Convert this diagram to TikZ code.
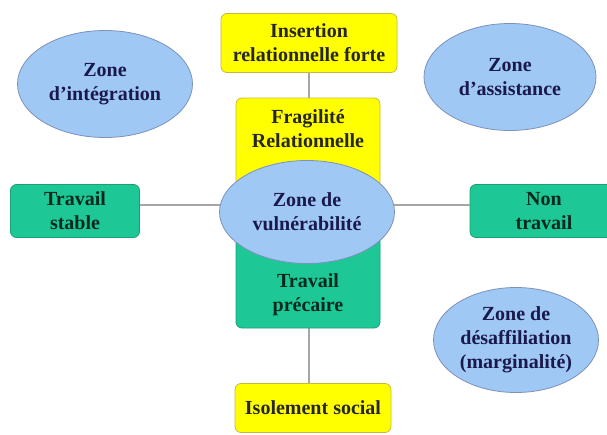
\documentclass[tikz,border=0pt]{standalone}
\usepackage{fontspec}
\setmainfont{Liberation Serif}
\usetikzlibrary{shapes.geometric}
\definecolor{jaune}{RGB}{255,255,0}
\definecolor{jauneb}{RGB}{200,185,60}
\definecolor{vert}{RGB}{30,200,150}
\definecolor{vertb}{RGB}{25,160,115}
\definecolor{bleu}{RGB}{160,200,245}
\definecolor{bleub}{RGB}{125,145,185}
\definecolor{marine}{RGB}{25,25,75}
\begin{document}
\begin{tikzpicture}[x=1pt,y=-1pt,font=\rmfamily\bfseries\fontsize{20}{24}\selectfont,
  lien/.style={draw=black!35,line width=1.2pt},
  boite/.style={rectangle,rounded corners=6pt,line width=0.8pt,align=center,inner sep=0pt},
  jbox/.style={boite,fill=jaune,draw=jauneb,text=black!85},
  vbox/.style={boite,fill=vert,draw=vertb,text=black!80!vert},
  zone/.style={ellipse,fill=bleu,draw=bleub,line width=0.8pt,align=center,inner sep=0pt,text=marine},
  texte/.style={align=center,inner sep=0pt}]
\useasboundingbox (0,0) rectangle (607,434);
\node[vbox,minimum width=129,minimum height=53] (stable) at (75,211) {Travail\\stable};
\node[vbox,minimum width=148,minimum height=53] (nontravail) at (544,211) {Non\\travail};
\draw[lien] ([yshift=6pt]stable.east) -- ([yshift=6pt]nontravail.west);
\node[jbox,minimum width=176,minimum height=59] (insertion) at (309,43) {Insertion\\relationnelle forte};
\node[jbox,minimum width=156,minimum height=49] (isolement) at (313,408) {Isolement social};
\draw[lien] (insertion.south) -- (isolement.north -| insertion.south);
\node[jbox,minimum width=144,minimum height=116] (fragilite) at (308,156) {};
\node[vbox,minimum width=144,minimum height=116] (precaire) at (308,270) {};
\node[texte,text=black!85] (fragtxt) at (308,129) {Fragilité\\Relationnelle};
\node[texte,text=black!80!vert] (prectxt) at (308,295) {Travail\\précaire};
\node[zone,minimum width=175,minimum height=103] (vuln) at (307,212) {Zone de\\vulnérabilité};
\node[zone,minimum width=175,minimum height=107] (integration) at (105,84) {Zone\\d’intégration};
\node[zone,minimum width=172,minimum height=107] (assistance) at (510,77) {Zone\\d’assistance};
\node[zone,minimum width=165,minimum height=105] (desaffiliation) at (516,340) {Zone de\\désaffiliation\\(marginalité)};
\end{tikzpicture}
\end{document}
